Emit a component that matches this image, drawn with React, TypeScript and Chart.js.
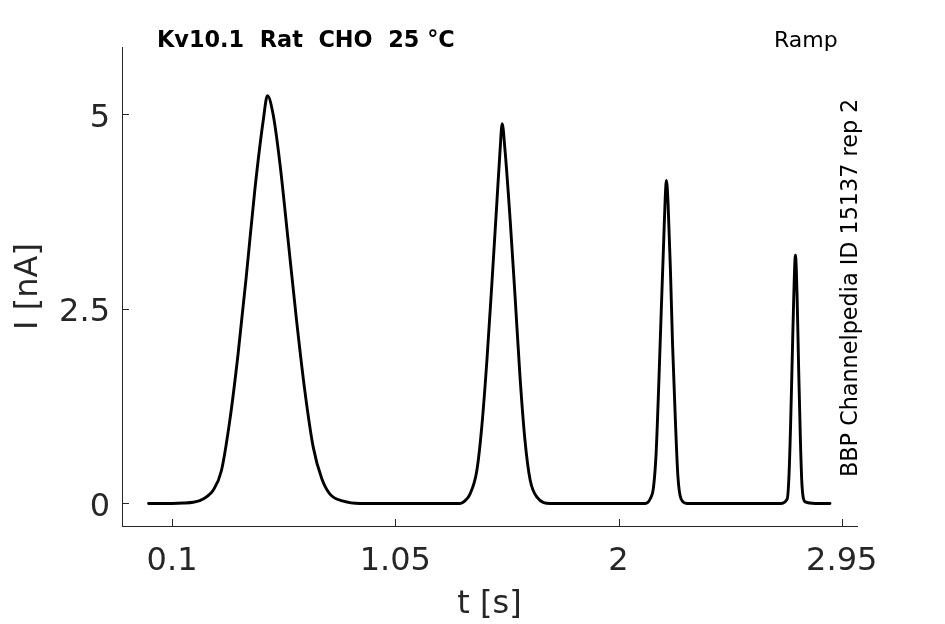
import React, { useEffect, useRef } from "react";
import { Chart, registerables } from "chart.js";

Chart.register(...registerables);

// ---- data ----
const timeSec = [
  0, 0.1, 0.15, 0.19, 0.218, 0.245, 0.275, 0.31, 0.346, 0.381, 0.417, 0.452, 0.488, 0.506,
  0.53, 0.559, 0.594, 0.63, 0.665, 0.701, 0.737, 0.772, 0.829, 0.9,
  1.1, 1.326, 1.345, 1.368, 1.397, 1.418, 1.44, 1.461, 1.482, 1.496, 1.505,
  1.517, 1.539, 1.56, 1.581, 1.602, 1.624, 1.653, 1.71,
  1.9, 2.114, 2.135, 2.149, 2.16, 2.171, 2.182, 2.192, 2.199, 2.204,
  2.211, 2.221, 2.23, 2.242, 2.253, 2.266, 2.292,
  2.5, 2.689, 2.718, 2.725, 2.732, 2.739, 2.746, 2.753,
  2.76, 2.767, 2.774, 2.781, 2.795, 2.838, 2.9,
];
const currentNA = [
  0, 0, 0.005, 0.015, 0.035, 0.08, 0.17, 0.42, 1.07, 1.92, 2.95, 4.02, 4.92, 5.24,
  5.0, 4.37, 3.38, 2.35, 1.45, 0.72, 0.32, 0.12, 0.03, 0,
  0, 0, 0.03, 0.12, 0.42, 0.98, 1.84, 2.82, 3.85, 4.54, 4.88,
  4.54, 3.64, 2.65, 1.62, 0.81, 0.3, 0.08, 0,
  0, 0, 0.06, 0.21, 0.64, 1.5, 2.48, 3.34, 3.94, 4.15,
  3.85, 3.0, 2.05, 1.07, 0.34, 0.06, 0,
  0, 0, 0.06, 0.32, 0.96, 1.82, 2.67, 3.19,
  2.67, 1.69, 0.83, 0.23, 0.02, 0, 0,
];

const xTickValues = [0.1, 1.05, 2, 2.95];
const xTickLabels = ["0.1", "1.05", "2", "2.95"];
const yTickValues = [0, 2.5, 5];
const yTickLabels = ["0", "2.5", "5"];

const titleText = "Kv10.1  Rat  CHO  25 \u00B0C";
const protocolText = "Ramp";
const sideText = "BBP Channelpedia ID 15137 rep 2";
const xTitle = "t [s]";
const yTitle = "I [nA]";

const FONT = "'DejaVu Sans', sans-serif";
const AXIS_COLOR = "#262626";

const decorPlugin = {
  id: "decor",
  afterDraw(chart: any) {
    const { ctx, chartArea, scales } = chart;
    const xs = scales.x;
    const ys = scales.y;
    ctx.save();
    ctx.strokeStyle = AXIS_COLOR;
    ctx.lineWidth = 1;
    ctx.beginPath();
    xTickValues.forEach((v) => {
      const px = Math.round(xs.getPixelForValue(v)) + 0.5;
      ctx.moveTo(px, chartArea.bottom);
      ctx.lineTo(px, chartArea.bottom - 7);
    });
    yTickValues.forEach((v) => {
      const py = Math.round(ys.getPixelForValue(v)) + 0.5;
      ctx.moveTo(chartArea.left, py);
      ctx.lineTo(chartArea.left + 7, py);
    });
    ctx.stroke();

    ctx.fillStyle = "#000";
    ctx.textBaseline = "alphabetic";
    ctx.textAlign = "left";
    ctx.font = `bold 22.4px ${FONT}`;
    ctx.fillText(titleText, 157, 46.5);
    ctx.font = `22px ${FONT}`;
    ctx.fillText(protocolText, 774, 46.5);

    ctx.translate(856.5, 477);
    ctx.rotate(-Math.PI / 2);
    ctx.font = `22.3px ${FONT}`;
    ctx.fillText(sideText, 0, 0);
    ctx.restore();
  },
};

export default function App() {
  const canvasRef = useRef<HTMLCanvasElement | null>(null);

  useEffect(() => {
    if (!canvasRef.current) return;
    const points = timeSec.map((t, i) => ({ x: t, y: currentNA[i] }));
    const chart = new Chart(canvasRef.current, {
      type: "line",
      data: {
        datasets: [
          {
            data: points,
            borderColor: "#000",
            borderWidth: 2.9,
            pointRadius: 0,
            cubicInterpolationMode: "monotone",
            fill: false,
            borderJoinStyle: "round",
            borderCapStyle: "round",
          },
        ],
      },
      options: {
        animation: false,
        responsive: true,
        maintainAspectRatio: false,
        devicePixelRatio: 1,
        layout: { padding: { left: 0, right: 88, top: 47, bottom: 0 } },
        plugins: {
          legend: { display: false },
          tooltip: { enabled: false },
          title: { display: false },
        },
        scales: {
          x: {
            type: "linear",
            min: -0.113,
            max: 3.015,
            afterBuildTicks: (s: any) => {
              s.ticks = xTickValues.map((v) => ({ value: v }));
            },
            afterFit: (s: any) => {
              s.height = 98;
            },
            ticks: {
              autoSkip: false,
              maxRotation: 0,
              minRotation: 0,
              padding: 16,
              color: AXIS_COLOR,
              font: { family: FONT, size: 32 },
              callback: (_v: any, i: number) => xTickLabels[i],
            },
            grid: { display: false, drawTicks: false },
            border: { display: true, color: AXIS_COLOR, width: 1 },
            title: {
              display: true,
              text: xTitle,
              color: AXIS_COLOR,
              font: { family: FONT, size: 32 },
              padding: { top: 0, bottom: 0 },
            },
          },
          y: {
            type: "linear",
            min: -0.29,
            max: 5.865,
            afterBuildTicks: (s: any) => {
              s.ticks = yTickValues.map((v) => ({ value: v }));
            },
            afterFit: (s: any) => {
              s.width = 122;
            },
            ticks: {
              autoSkip: false,
              padding: 12,
              labelOffset: 4,
              color: AXIS_COLOR,
              font: { family: FONT, size: 32 },
              callback: (_v: any, i: number) => yTickLabels[i],
            },
            grid: { display: false, drawTicks: false },
            border: { display: true, color: AXIS_COLOR, width: 1 },
            title: {
              display: true,
              text: yTitle,
              color: AXIS_COLOR,
              font: { family: FONT, size: 32 },
              padding: { top: 9, bottom: 0 },
            },
          },
        },
      },
      plugins: [decorPlugin],
    });
    return () => chart.destroy();
  }, []);

  return (
    <div
      style={{
        position: "fixed",
        left: 0,
        top: 0,
        width: 945,
        height: 624,
        background: "#fff",
      }}
    >
      <canvas ref={canvasRef} />
    </div>
  );
}
